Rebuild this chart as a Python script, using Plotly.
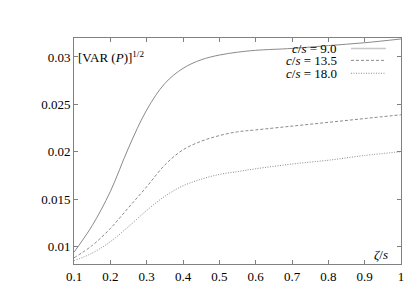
import plotly.graph_objects as go

zeta = [0.1, 0.15, 0.2, 0.25, 0.3, 0.35, 0.4, 0.45, 0.5, 0.55, 0.6, 0.7, 0.8, 0.9, 1.0]
var_c9 = [0.0094, 0.0122, 0.0158, 0.0204, 0.0244, 0.0272, 0.0288, 0.0297, 0.0302, 0.0305, 0.0307, 0.0309, 0.0312, 0.0315, 0.0319]
var_c135 = [0.0088, 0.0101, 0.0119, 0.0141, 0.0163, 0.0186, 0.0202, 0.0211, 0.0217, 0.0221, 0.0223, 0.0227, 0.0231, 0.0235, 0.0239]
var_c18 = [0.0085, 0.0093, 0.0105, 0.0121, 0.0138, 0.0153, 0.0164, 0.0171, 0.0176, 0.0179, 0.0182, 0.0187, 0.0191, 0.0196, 0.0200]
series_names = ["<i>c</i>/<i>s</i> = 9.0", "<i>c</i>/<i>s</i> = 13.5", "<i>c</i>/<i>s</i> = 18.0"]
x_ticks = [0.1, 0.2, 0.3, 0.4, 0.5, 0.6, 0.7, 0.8, 0.9, 1.0]
x_tick_labels = ["0.1", "0.2", "0.3", "0.4", "0.5", "0.6", "0.7", "0.8", "0.9", "1"]
y_ticks = [0.01, 0.015, 0.02, 0.025, 0.03]
y_tick_labels = ["0.01", "0.015", "0.02", "0.025", "0.03"]

LINE = "#8a8a8a"
FONT = "Liberation Serif"
dashes = ["solid", "3px,2px", "1px,1.5px"]

fig = go.Figure()
for ys, name, d in zip([var_c9, var_c135, var_c18], series_names, dashes):
    fig.add_trace(go.Scatter(x=zeta, y=ys, mode="lines", name=name,
                             line=dict(color=LINE, width=1, dash=d, shape="spline", smoothing=1.0),
                             showlegend=False, hoverinfo="skip"))

# manual legend (text right-aligned, sample to the right, gnuplot style)
leg_y = [0.954, 0.901, 0.844]
for name, d, yy in zip(series_names, dashes, leg_y):
    fig.add_annotation(xref="paper", yref="paper", x=0.81, y=yy, xanchor="right", yanchor="middle",
                       text=name, showarrow=False, font=dict(family=FONT, size=13, color="black"))
    fig.add_shape(type="line", xref="paper", yref="paper", x0=0.847, x1=0.954, y0=yy, y1=yy,
                  line=dict(color="#c8c8c8" if d == "solid" else LINE, width=1.5 if d == "solid" else 1, dash=d))

fig.add_annotation(xref="paper", yref="y", x=0.005, y=0.03, xanchor="left", yanchor="middle",
                   text="[VAR (<i>P</i>)]<sup>1/2</sup>", showarrow=False,
                   font=dict(family=FONT, size=13, color="black"))
fig.add_annotation(xref="x", yref="paper", x=0.97, y=0.0, xanchor="right", yanchor="bottom",
                   text="<i>ζ</i>/<i>s</i>", showarrow=False,
                   font=dict(family=FONT, size=13, color="black"))

axis_common = dict(showgrid=False, zeroline=False, showline=True, linecolor="#808080", linewidth=1,
                   mirror="allticks", ticks="inside", ticklen=4, tickcolor="#808080", tickwidth=1,
                   automargin=False, tickfont=dict(family=FONT, size=13, color="black"))
fig.update_xaxes(range=[0.1, 1.0], tickvals=x_ticks, ticktext=x_tick_labels, **axis_common)
fig.update_yaxes(range=[0.00815, 0.0320], tickvals=y_ticks, ticktext=y_tick_labels, **axis_common)

fig.update_layout(width=415, height=291, margin=dict(l=74, r=14, t=38, b=27),
                  font=dict(family=FONT, size=13, color="black"),
                  plot_bgcolor="white", paper_bgcolor="white")
fig.write_html("out.html", config={"displayModeBar": False, "staticPlot": True})

with open("out.html", "r", encoding="utf-8") as f:
    html = f.read()
html = html.replace("<body>", '<body style="margin:0;padding:0;overflow:hidden">', 1)
with open("out.html", "w", encoding="utf-8") as f:
    f.write(html)
